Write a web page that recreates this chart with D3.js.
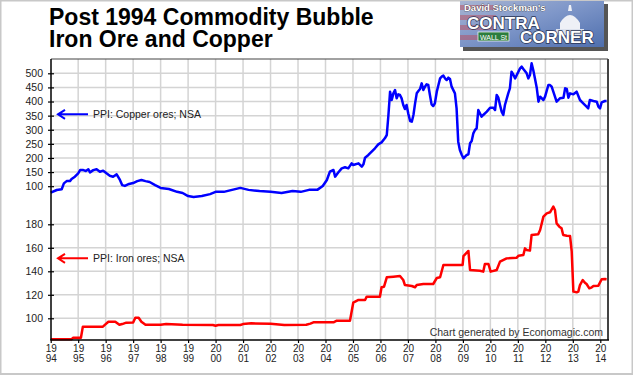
<!DOCTYPE html>
<html>
<head>
<meta charset="utf-8">
<script src="https://cdn.jsdelivr.net/npm/d3@7"></script>
<style>
  body { margin: 0; background: #fff; }
  svg { display: block; font-family: 'Liberation Sans', Arial, sans-serif; }
</style>
</head>
<body>
<div id="chart"></div>
<script>
// copper ores PPI (decimal year, index)
const copperYears = [
  1994.00, 1994.22, 1994.40, 1994.48, 1994.58, 1994.70, 1994.76, 1994.88, 1995.00, 1995.07,
  1995.19, 1995.28, 1995.37, 1995.43, 1995.55, 1995.67, 1995.79, 1995.91, 1996.03, 1996.15,
  1996.27, 1996.40, 1996.52, 1996.60, 1996.70, 1996.85, 1997.00, 1997.15, 1997.30, 1997.45,
  1997.60, 1997.80, 1998.00, 1998.30, 1998.60, 1998.80, 1999.00, 1999.20, 1999.50, 1999.80,
  2000.00, 2000.30, 2000.60, 2000.90, 2001.20, 2001.60, 2002.00, 2002.40, 2002.80, 2003.10,
  2003.40, 2003.70, 2003.90, 2004.05, 2004.16, 2004.29, 2004.35, 2004.47, 2004.59, 2004.71,
  2004.83, 2004.95, 2005.01, 2005.20, 2005.32, 2005.38, 2005.44, 2005.56, 2005.68, 2005.80,
  2005.92, 2006.04, 2006.16, 2006.23, 2006.29, 2006.35, 2006.41, 2006.47, 2006.53, 2006.59,
  2006.65, 2006.71, 2006.77, 2006.83, 2006.89, 2006.95, 2007.01, 2007.08, 2007.14, 2007.20,
  2007.26, 2007.32, 2007.38, 2007.44, 2007.50, 2007.56, 2007.62, 2007.68, 2007.74, 2007.80,
  2007.86, 2007.92, 2007.98, 2008.05, 2008.11, 2008.17, 2008.23, 2008.29, 2008.35, 2008.41,
  2008.47, 2008.53, 2008.59, 2008.71, 2008.77, 2008.83, 2008.89, 2008.96, 2009.02, 2009.08,
  2009.14, 2009.20, 2009.26, 2009.32, 2009.38, 2009.44, 2009.50, 2009.56, 2009.62, 2009.68,
  2009.74, 2009.87, 2009.99, 2010.11, 2010.17, 2010.23, 2010.29, 2010.35, 2010.41, 2010.47,
  2010.53, 2010.65, 2010.71, 2010.77, 2010.84, 2010.90, 2010.96, 2011.08, 2011.14, 2011.20,
  2011.32, 2011.38, 2011.44, 2011.50, 2011.56, 2011.62, 2011.69, 2011.75, 2011.81, 2011.93,
  2011.99, 2012.11, 2012.17, 2012.23, 2012.29, 2012.41, 2012.53, 2012.66, 2012.72, 2012.78,
  2012.84, 2012.90, 2013.02, 2013.14, 2013.26, 2013.38, 2013.50, 2013.56, 2013.62, 2013.75,
  2013.87, 2013.93, 2013.99, 2014.05, 2014.17, 2014.23
]
const copperValues = [
  77, 86.5, 89, 110, 118, 118, 125.5, 133.7, 145.7, 157,
  157, 154, 160, 149, 157, 160, 151, 155, 145.7, 137,
  133.7, 142, 122, 104, 101, 108, 111, 118, 122, 118,
  115, 104, 94, 90, 80, 76, 65, 62, 65, 72,
  80, 80, 87, 94, 87, 83, 80, 76, 83, 80,
  87, 87, 101, 122, 151.5, 157.4, 133.8, 149.2, 163.3, 166.9,
  163.3, 181, 175.1, 181, 169.2, 177.5, 201.1, 210.6, 222.4, 234.2,
  248.3, 255.4, 269.6, 281.4, 352.3, 434.9, 405.4, 429, 440.8, 411.3,
  425.5, 423.1, 411.3, 387.7, 373.5, 387.7, 358.2, 331, 328.6, 352.3,
  393.6, 429, 437.3, 444.4, 464.4, 440.8, 452.6, 460.9, 458.5, 423.1,
  390, 384.1, 393.6, 434.9, 458.5, 482.1, 488, 491.6, 482.1, 476.2,
  484.5, 479.8, 452.6, 429, 375.9, 257.8, 228.3, 210.6, 198.8, 204.7,
  210.6, 212.9, 251.9, 260.2, 287.3, 299.1, 305, 370, 358.2, 346.4,
  352.3, 364.1, 378.2, 378.2, 370, 423.1, 413.7, 387.7, 364.1, 352.3,
  387.7, 429, 446.7, 505.8, 494, 482.1, 494, 517.6, 523.5, 515.2,
  499.9, 482.1, 494, 535.3, 511.7, 482.1, 446.7, 399.5, 417.2, 405.4,
  417.2, 458.5, 458.5, 452.6, 434.9, 399.5, 411.3, 413.7, 446.7, 444.4,
  413.7, 429, 425.5, 434.9, 405.4, 393.6, 381.8, 375.9, 405.4, 401.9,
  399.5, 381.8, 375.9, 397.1, 401.9, 401.9
]

// iron ores PPI (decimal year, index)
const ironYears = [
  1994.00, 1994.75, 1994.82, 1995.10, 1995.17, 1995.90, 1996.00, 1996.10, 1996.35, 1996.50,
  1996.60, 1996.75, 1997.00, 1997.08, 1997.20, 1997.30, 1997.45, 1998.00, 1998.20, 1998.80,
  1999.90, 2000.00, 2000.10, 2000.90, 2001.00, 2001.30, 2002.00, 2002.20, 2002.50, 2003.30,
  2003.45, 2003.56, 2004.29, 2004.41, 2004.89, 2005.01, 2005.20, 2005.44, 2005.50, 2005.98,
  2006.04, 2006.13, 2006.23, 2006.47, 2006.71, 2006.83, 2006.89, 2007.14, 2007.26, 2007.32,
  2007.56, 2007.92, 2008.05, 2008.17, 2008.29, 2008.99, 2009.02, 2009.20, 2009.26, 2009.62,
  2009.74, 2009.80, 2009.93, 2010.01, 2010.23, 2010.35, 2010.59, 2010.96, 2011.02, 2011.20,
  2011.26, 2011.32, 2011.44, 2011.50, 2011.74, 2011.81, 2011.93, 2012.05, 2012.17, 2012.29,
  2012.35, 2012.41, 2012.51, 2012.59, 2012.65, 2012.78, 2012.90, 2012.96, 2013.02, 2013.14,
  2013.20, 2013.26, 2013.36, 2013.44, 2013.50, 2013.60, 2013.69, 2013.75, 2013.93, 2014.05,
  2014.17, 2014.23
]
const ironValues = [
  82.1, 82.1, 83.5, 83.5, 92.9, 92.9, 95, 97.1, 97.1, 94.5,
  95.1, 96.3, 96.5, 100.5, 100.5, 97.1, 94.5, 94.5, 95.1, 94.5,
  94.3, 93.7, 94.3, 94.3, 95.1, 95.7, 95.4, 94.9, 94.3, 94.5,
  95.5, 96.6, 96.6, 98, 98, 113.3, 115.6, 115.6, 118.4, 118.4,
  126.4, 126.9, 134.9, 135.4, 136, 132.6, 128.3, 127.5, 126.4, 128.3,
  129.2, 129.2, 134.3, 134.9, 145.4, 145.4, 153, 157.3, 141.1, 140.5,
  139.7, 146.2, 146.2, 139.7, 141.1, 148.2, 151, 151.6, 153.3, 153.9,
  159.5, 158.1, 157.6, 170.9, 171.5, 175.2, 186.5, 189.3, 190.2, 195,
  192.2, 180.8, 178, 176.6, 170.9, 170.3, 170, 156.7, 122.7, 122.1,
  122.7, 128.3, 132.6, 130.3, 129.2, 125.5, 126.4, 127.5, 127.8, 133.2,
  133.4, 133.2
]

const yearTicks = d3.range(1994, 2015)
const copperTicks = [100, 150, 200, 250, 300, 350, 400, 450, 500]
const ironTicks = [100, 120, 140, 160, 180]

const titleLines = ['Post 1994 Commodity Bubble', 'Iron Ore and Copper']
const copperLabel = 'PPI: Copper ores; NSA'
const ironLabel = 'PPI: Iron ores; NSA'
const creditLabel = 'Chart generated by Economagic.com'

const W = 633
const H = 375
const plot = { left: 51, top: 59, right: 608, bottom: 340 }

const x = d3.scaleLinear().domain([1994, 2014]).range([50.7, 600.3])
// two stacked value scales sharing one frame
const yCopper = d3.scaleLinear().domain([100, 500]).range([186.2, 73.3])
const yIron = d3.scaleLinear().domain([100, 180]).range([318.3, 224.3])

const svg = d3.select('#chart')
  .append('svg')
  .attr('width', W)
  .attr('height', H)

// outer border
svg.append('rect')
  .attr('x', 0.5).attr('y', 0.5)
  .attr('width', W - 1).attr('height', H - 1.5)
  .attr('fill', 'none')
  .attr('stroke', '#c8c8c8')
  .attr('stroke-width', 2)

// title
svg.append('g')
  .selectAll('text')
  .data(titleLines)
  .enter()
  .append('text')
  .attr('x', 49)
  .attr('y', (d, i) => 25 + i * 22)
  .text(d => d)
  .style('font-size', '23px')
  .style('font-weight', 700)
  .attr('fill', '#000')

// logo
const logo = svg.append('g').attr('transform', 'translate(460,1)')
const defs = svg.append('defs')
const grad = defs.append('linearGradient').attr('id', 'logoGrad')
  .attr('x1', 0).attr('y1', 0).attr('x2', 1).attr('y2', 1)
grad.append('stop').attr('offset', '0%').attr('stop-color', '#a7b4d2')
grad.append('stop').attr('offset', '45%').attr('stop-color', '#7f97c9')
grad.append('stop').attr('offset', '100%').attr('stop-color', '#4f6fae')
logo.append('rect').attr('x', 3).attr('y', 3).attr('width', 145).attr('height', 47).attr('fill', '#555')
logo.append('rect').attr('x', 0).attr('y', 0).attr('width', 144).attr('height', 46).attr('fill', 'url(#logoGrad)')
logo.selectAll('.stripe')
  .data([4, 14, 24, 34])
  .enter()
  .append('rect')
  .attr('class', 'stripe')
  .attr('x', 0).attr('y', d => d)
  .attr('width', 36).attr('height', 5)
  .attr('fill', '#c0424f')
  .attr('opacity', 0.45)
logo.append('path')
  .attr('d', 'M100,30 L100,22 Q110,6 120,22 L120,30 Z M108,10 L112,10 L111,4 L109,4 Z')
  .attr('fill', '#eef0f6')
logo.append('rect').attr('x', 96).attr('y', 28).attr('width', 28).attr('height', 6).attr('fill', '#dde2ee')
logo.append('text')
  .attr('x', 4).attr('y', 9.5)
  .text("David Stockman's")
  .style('font-size', '9.5px').style('font-weight', 700)
  .attr('fill', '#fff').attr('stroke', '#333').attr('stroke-width', 0.6)
  .attr('paint-order', 'stroke')
logo.append('text')
  .attr('x', 7).attr('y', 28)
  .text('CONTRA')
  .style('font-size', '17px').style('font-weight', 700)
  .attr('fill', '#fff').attr('stroke', '#2a3555').attr('stroke-width', 1.5)
  .attr('paint-order', 'stroke')
logo.append('text')
  .attr('x', 60).attr('y', 42)
  .text('CORNER')
  .style('font-size', '17px').style('font-weight', 700)
  .attr('fill', '#fff').attr('stroke', '#2a3555').attr('stroke-width', 1.5)
  .attr('paint-order', 'stroke')
logo.append('rect').attr('x', 18).attr('y', 31).attr('width', 31).attr('height', 9)
  .attr('fill', '#2c7d3e').attr('stroke', '#fff').attr('stroke-width', 0.7)
logo.append('text')
  .attr('x', 33.5).attr('y', 38.5)
  .attr('text-anchor', 'middle')
  .text('WALL St')
  .style('font-size', '7px')
  .attr('fill', '#fff')

// grid
const grid = svg.append('g').attr('stroke', '#d4d4d4').attr('stroke-width', 1.5)
grid.selectAll('.vgrid')
  .data(yearTicks.slice(1))
  .enter()
  .append('line')
  .attr('x1', d => x(d)).attr('x2', d => x(d))
  .attr('y1', plot.top).attr('y2', plot.bottom)
grid.selectAll('.hgridc')
  .data(copperTicks)
  .enter()
  .append('line')
  .attr('x1', plot.left).attr('x2', plot.right)
  .attr('y1', d => yCopper(d)).attr('y2', d => yCopper(d))
grid.selectAll('.hgridi')
  .data(ironTicks)
  .enter()
  .append('line')
  .attr('x1', plot.left).attr('x2', plot.right)
  .attr('y1', d => yIron(d)).attr('y2', d => yIron(d))

// series
const copperLine = d3.line()
  .x((d, i) => x(copperYears[i]))
  .y(d => yCopper(d))
const ironLine = d3.line()
  .x((d, i) => x(ironYears[i]))
  .y(d => yIron(d))

svg.append('path')
  .datum(ironValues)
  .attr('d', ironLine)
  .attr('fill', 'none')
  .attr('stroke', '#ff0000')
  .attr('stroke-width', 2.5)
  .attr('stroke-linejoin', 'round')

svg.append('path')
  .datum(copperValues)
  .attr('d', copperLine)
  .attr('fill', 'none')
  .attr('stroke', '#0000ff')
  .attr('stroke-width', 2.5)
  .attr('stroke-linejoin', 'round')

// frame
svg.append('line')
  .attr('x1', plot.left).attr('x2', plot.right)
  .attr('y1', plot.top).attr('y2', plot.top)
  .attr('stroke', '#444').attr('stroke-width', 1.2)
svg.append('line')
  .attr('x1', plot.right).attr('x2', plot.right)
  .attr('y1', plot.top).attr('y2', plot.bottom)
  .attr('stroke', '#444').attr('stroke-width', 2)

// y axes (ticks cross the axis line)
const yAxisG = svg.append('g').attr('transform', `translate(${plot.left},0)`)
yAxisG.append('g')
  .call(d3.axisLeft(yCopper).tickValues(copperTicks).tickSizeInner(3).tickSizeOuter(0).tickPadding(5))
yAxisG.append('g')
  .call(d3.axisLeft(yIron).tickValues(ironTicks).tickSizeInner(3).tickSizeOuter(0).tickPadding(5))
yAxisG.selectAll('.domain').remove()
yAxisG.selectAll('.tick line').attr('x1', 3).attr('stroke', '#000').attr('stroke-width', 1.2)
yAxisG.selectAll('.tick text')
  .style('font-size', '10.5px')
  .style('font-family', "'Liberation Sans', Arial, sans-serif")
  .attr('fill', '#222')
yAxisG.append('line')
  .attr('x1', 0).attr('x2', 0)
  .attr('y1', plot.top).attr('y2', plot.bottom)
  .attr('stroke', '#000').attr('stroke-width', 1.5)

// x axis: year split over two lines ("19" / "94")
const xAxisG = svg.append('g').attr('transform', `translate(0,${plot.bottom})`)
xAxisG.call(d3.axisBottom(x).tickValues(yearTicks).tickSizeInner(3).tickSizeOuter(0).tickFormat(''))
xAxisG.select('.domain').remove()
xAxisG.selectAll('.tick line').attr('stroke', '#000').attr('stroke-width', 1.2)
xAxisG.selectAll('.tick text').remove()
xAxisG.selectAll('.tick')
  .selectAll('.yr')
  .data(d => [String(d).slice(0, 2), String(d).slice(2)])
  .enter()
  .append('text')
  .attr('class', 'yr')
  .attr('text-anchor', 'middle')
  .attr('fill', '#222')
  .attr('x', 0)
  .attr('y', (d, i) => 12 + i * 10)
  .text(d => d)
  .style('font-size', '10px')
  .style('font-family', "'Liberation Sans', Arial, sans-serif")
xAxisG.append('line')
  .attr('x1', plot.left - 0.75).attr('x2', plot.right + 1)
  .attr('y1', 0).attr('y2', 0)
  .attr('stroke', '#000').attr('stroke-width', 1.5)

// series labels with arrows
function labelArrow(yPos, color, label) {
  const g = svg.append('g').attr('transform', `translate(0,${yPos})`)
  g.append('path')
    .attr('d', 'M88,0 L58,0 M65,-4.5 L58,0 L65,4.5')
    .attr('fill', 'none')
    .attr('stroke', color)
    .attr('stroke-width', 2)
  g.append('text')
    .attr('x', 93)
    .attr('y', 4)
    .text(label)
    .style('font-size', '10.5px')
    .attr('fill', '#222')
}
labelArrow(114.3, '#0000ff', copperLabel)
labelArrow(258.3, '#ff0000', ironLabel)

svg.append('text')
  .attr('x', 603)
  .attr('y', 336)
  .attr('text-anchor', 'end')
  .text(creditLabel)
  .style('font-size', '10.5px')
  .attr('fill', '#333')
</script>
</body>
</html>
